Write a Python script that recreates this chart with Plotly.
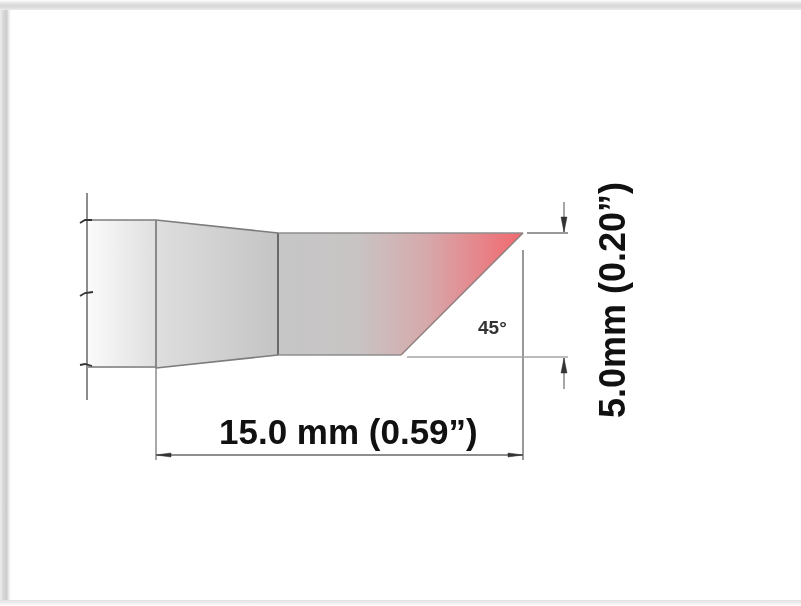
import plotly.graph_objects as go

# Outline of the tip, in picture units
shank_x = [87, 156, 156, 87]
shank_y = [220, 220, 368, 368]
cone_x = [156, 278, 278, 156]
cone_y = [220, 233, 355, 368]
blade_x = [278, 523, 401, 278]
blade_y = [233, 233, 355, 355]

# Gradient stops
shank_colors = [[0, "#fbfbfb"], [1, "#dfdfdf"]]
cone_colors = [[0, "#dedede"], [1, "#c4c4c4"]]
blade_colors = [[0, "#c6c6c6"], [0.32, "#c8c4c4"], [0.6, "#d6aaac"], [1, "#f2686f"]]

# Dimension lines: (x list, y list, colour, width)
dim_lines = [
    ([87, 87], [193, 400], "#808080", 1.8),
    ([87, 156], [220, 220], "#7c7c7c", 1.6),
    ([87, 156], [367, 367], "#989898", 2.0),
    ([80, 85, 92], [223, 220, 220], "#333333", 1.8),
    ([80, 85, 93], [296, 293, 292], "#333333", 1.8),
    ([80, 85, 92], [365, 364, 366], "#333333", 1.8),
    ([156, 156], [220, 368], "#808080", 1.8),
    ([156, 156], [368, 460], "#a0a0a0", 1.8),
    ([156, 278], [220, 233], "#7c7c7c", 1.6),
    ([156, 278], [368, 355], "#7c7c7c", 1.6),
    ([278, 278], [233, 355], "#6a6a6a", 2.0),
    ([278, 523], [233, 233], "#8e8e8e", 1.7),
    ([278, 401], [355, 355], "#8e8e8e", 1.7),
    ([401, 523], [355, 233], "#8e7e7e", 1.4),
    ([156, 523], [455, 455], "#8e8e8e", 2.0),
    ([523, 523], [250, 460], "#808080", 1.6),
    ([527, 568], [233, 233], "#989898", 1.8),
    ([407, 568], [357, 357], "#a4a4a4", 1.7),
    ([564, 564], [202, 232], "#808080", 1.4),
    ([564, 564], [358, 389], "#808080", 1.4),
]

# Arrow heads as small triangles
arrow_heads = [
    ([156, 171, 171], [455, 453, 457]),
    ([523, 508, 508], [455, 453, 457]),
    ([564, 561, 567], [232, 217, 217]),
    ([564, 561, 567], [358, 373, 373]),
]

# Soft frame of the picture: (x list, y list, gradient type, stops)
frame_bands = [
    ([0, 11, 11, 0], [0, 0, 606, 606], "horizontal",
     [[0, "#eeeeee"], [0.3, "#d8d8d8"], [0.6, "#cccccc"], [0.82, "#eeeeee"], [1, "#ffffff"]]),
    ([0, 801, 801, 0], [0, 0, 10, 10], "vertical",
     [[0, "#ebebeb"], [0.35, "#d8d8d8"], [0.6, "#dddddd"], [1, "#ffffff"]]),
    ([0, 801, 801, 0], [600, 600, 606, 606], "vertical",
     [[0, "#ffffff"], [0.5, "#ececec"], [1, "#e2e2e2"]]),
]

length_label = "15.0 mm (0.59”)"
width_label = "5.0mm (0.20”)"
angle_label = "45°"

fig = go.Figure()


def add_fill(xs, ys, kind, stops):
    fig.add_trace(go.Scatter(
        x=xs + xs[:1], y=ys + ys[:1], mode="lines", fill="toself",
        line=dict(width=0), fillgradient=dict(type=kind, colorscale=stops),
        hoverinfo="skip", showlegend=False))


for xs, ys, kind, stops in frame_bands:
    add_fill(xs, ys, kind, stops)
add_fill(shank_x, shank_y, "horizontal", shank_colors)
add_fill(cone_x, cone_y, "horizontal", cone_colors)
add_fill(blade_x, blade_y, "horizontal", blade_colors)

for xs, ys, color, width in dim_lines:
    fig.add_trace(go.Scatter(x=xs, y=ys, mode="lines",
                             line=dict(color=color, width=width),
                             hoverinfo="skip", showlegend=False))
for xs, ys in arrow_heads:
    fig.add_trace(go.Scatter(x=xs + xs[:1], y=ys + ys[:1], mode="lines", fill="toself",
                             fillcolor="#333333", line=dict(color="#333333", width=0.5),
                             hoverinfo="skip", showlegend=False))

font = "Liberation Sans"
fig.add_annotation(x=348, y=431, text=f"<b>{length_label}</b>", showarrow=False,
                   font=dict(family=font, size=35, color="#111111"))
fig.add_annotation(x=612, y=300, text=f"<b>{width_label}</b>", showarrow=False, textangle=-90,
                   font=dict(family=font, size=36, color="#111111"))
fig.add_annotation(x=492, y=327, text=f"<b>{angle_label}</b>", showarrow=False,
                   font=dict(family=font, size=19, color="#333333"))

fig.update_xaxes(range=[0, 801], visible=False, fixedrange=True)
fig.update_yaxes(range=[606, 0], visible=False, fixedrange=True)
fig.update_layout(width=801, height=606, margin=dict(l=0, r=0, t=0, b=0),
                  paper_bgcolor="white", plot_bgcolor="white", showlegend=False)
fig.write_html("out.html", config={"displayModeBar": False},
               post_script="document.body.style.margin='0';document.body.style.overflow='hidden';"
                           "document.querySelector('.plotly-graph-div').style.filter='blur(0.6px)';")
